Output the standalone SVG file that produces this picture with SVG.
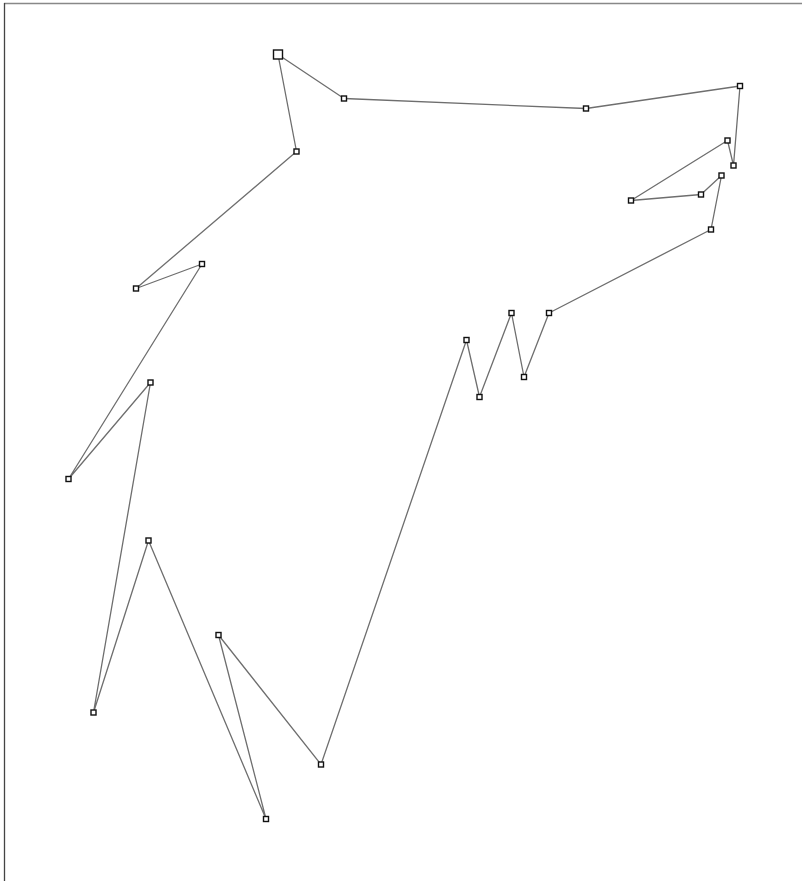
<svg xmlns="http://www.w3.org/2000/svg" width="802" height="881" viewBox="0 0 802 881">
<style>
.edge{fill:none;stroke:#6e6e6e;stroke-width:1.3;stroke-linejoin:round}
.n{fill:#fff;stroke:#111;stroke-width:1.4}
.frame{stroke:#888;stroke-width:1.5;fill:none}
</style>
<rect width="802" height="881" fill="#fff"/>
<line class="frame" x1="4" y1="3.5" x2="802" y2="3.5"/>
<line x1="4.5" y1="3" x2="4.5" y2="881" stroke="#444" stroke-width="1.3"/>
<g id="connectors">
<polyline class="edge" points="278,54.5 344,98.5 586,108.5 740,86 733.5,165.5 727.5,140.5 631,200.5 701,194.5 721.5,175.5 711,229.5 549,313 524,377 511.5,313 479.5,397 466.5,340 321,764.5 218.5,635 266,819 148.5,540.5 93.5,712.5 150.5,382.5 68.5,479 202,264 136,288.5 296.5,151.5 278,54.5"/>
</g>
<g id="n1"><rect class="n" x="273.5" y="50" width="9" height="9"/></g>
<g id="n2"><rect class="n" x="341.5" y="96" width="5" height="5"/></g>
<g id="n3"><rect class="n" x="583.5" y="106" width="5" height="5"/></g>
<g id="n4"><rect class="n" x="737.5" y="83.5" width="5" height="5"/></g>
<g id="n5"><rect class="n" x="731" y="163" width="5" height="5"/></g>
<g id="n6"><rect class="n" x="725" y="138" width="5" height="5"/></g>
<g id="n7"><rect class="n" x="628.5" y="198" width="5" height="5"/></g>
<g id="n8"><rect class="n" x="698.5" y="192" width="5" height="5"/></g>
<g id="n9"><rect class="n" x="719" y="173" width="5" height="5"/></g>
<g id="n10"><rect class="n" x="708.5" y="227" width="5" height="5"/></g>
<g id="n11"><rect class="n" x="546.5" y="310.5" width="5" height="5"/></g>
<g id="n12"><rect class="n" x="521.5" y="374.5" width="5" height="5"/></g>
<g id="n13"><rect class="n" x="509" y="310.5" width="5" height="5"/></g>
<g id="n14"><rect class="n" x="477" y="394.5" width="5" height="5"/></g>
<g id="n15"><rect class="n" x="464" y="337.5" width="5" height="5"/></g>
<g id="n16"><rect class="n" x="318.5" y="762" width="5" height="5"/></g>
<g id="n17"><rect class="n" x="216" y="632.5" width="5" height="5"/></g>
<g id="n18"><rect class="n" x="263.5" y="816.5" width="5" height="5"/></g>
<g id="n19"><rect class="n" x="146" y="538" width="5" height="5"/></g>
<g id="n20"><rect class="n" x="91" y="710" width="5" height="5"/></g>
<g id="n21"><rect class="n" x="148" y="380" width="5" height="5"/></g>
<g id="n22"><rect class="n" x="66" y="476.5" width="5" height="5"/></g>
<g id="n23"><rect class="n" x="199.5" y="261.5" width="5" height="5"/></g>
<g id="n24"><rect class="n" x="133.5" y="286" width="5" height="5"/></g>
<g id="n25"><rect class="n" x="294" y="149" width="5" height="5"/></g>
</svg>
